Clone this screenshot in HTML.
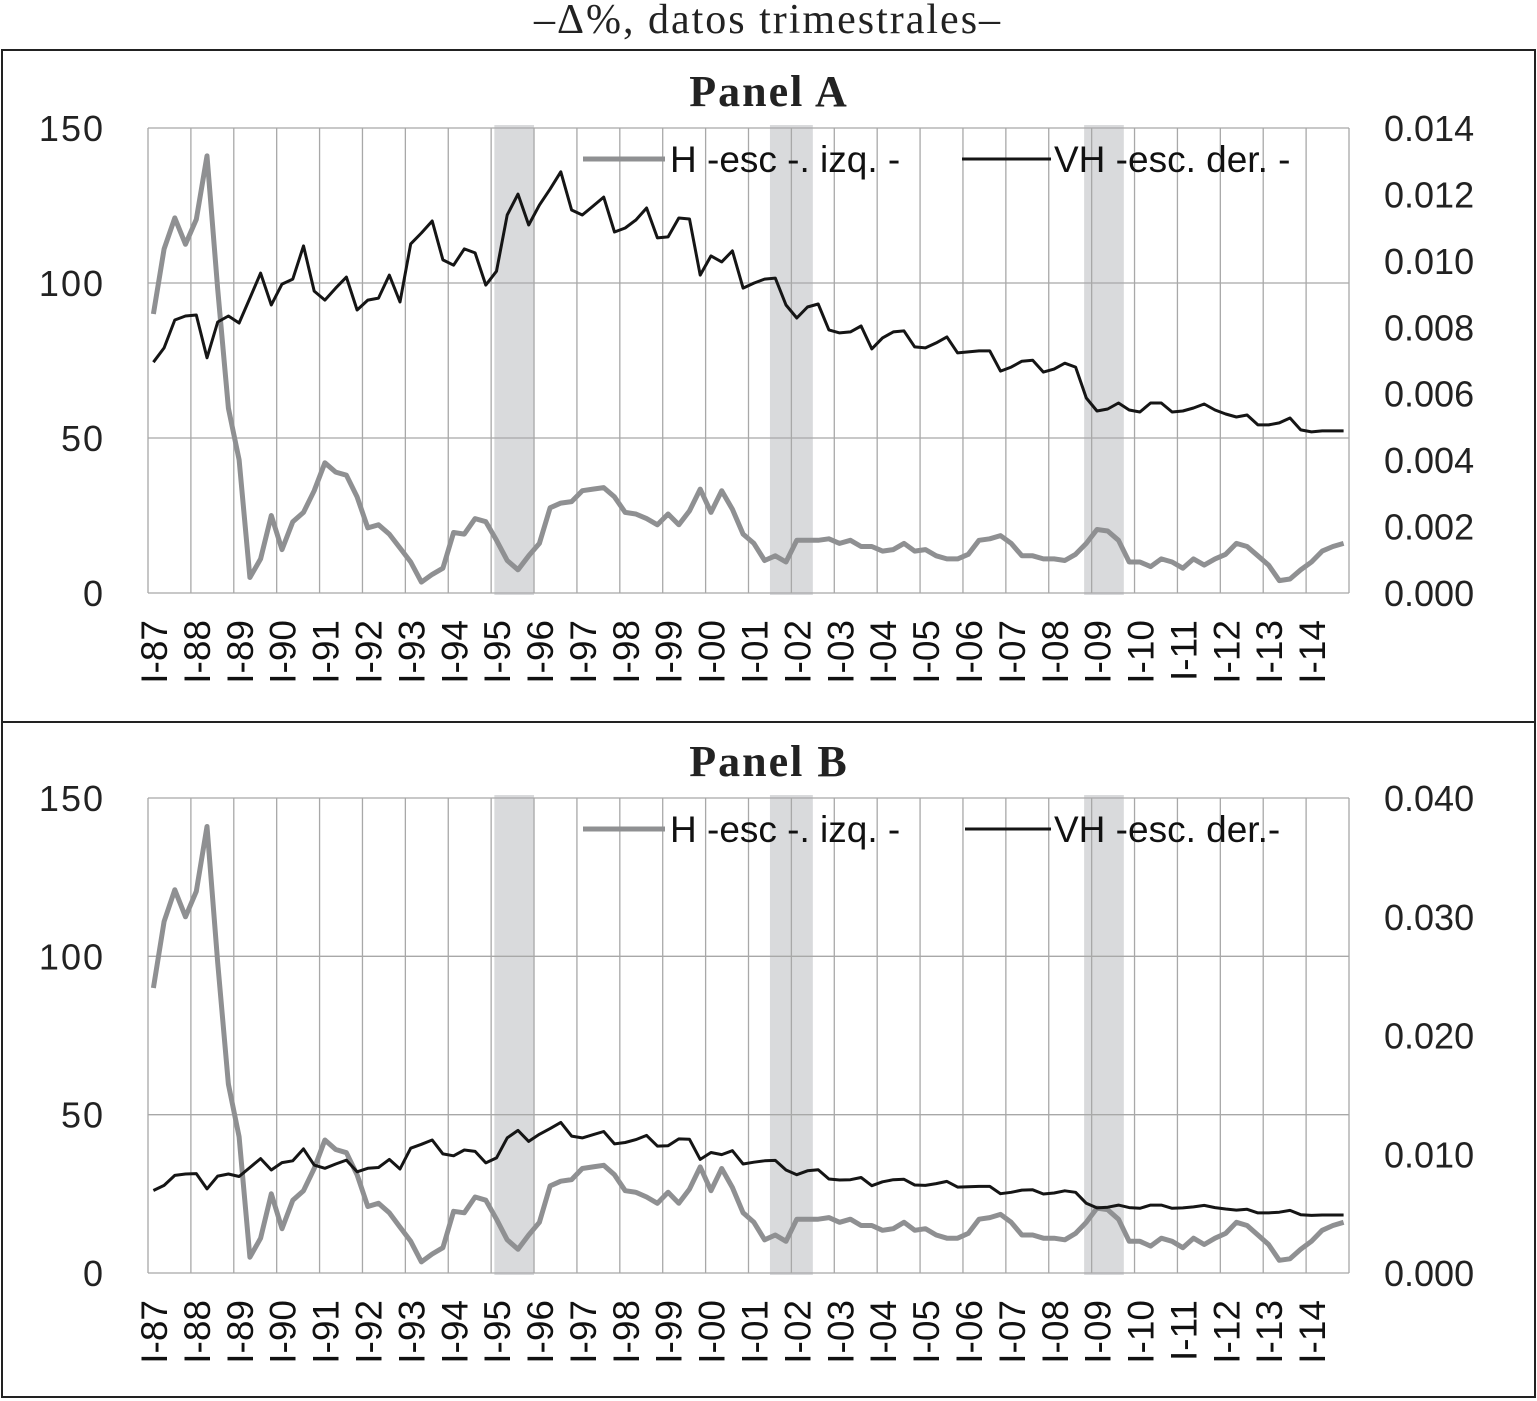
<!DOCTYPE html>
<html><head><meta charset="utf-8"><style>
html,body{margin:0;padding:0;background:#fff;}
svg{display:block;font-family:"Liberation Sans",sans-serif;}
</style></head><body>
<svg id="chart" width="1537" height="1401" viewBox="0 0 1537 1401" xmlns="http://www.w3.org/2000/svg">
<text x="768" y="33" text-anchor="middle" font-family="Liberation Serif,serif" font-size="42" letter-spacing="2" fill="#222">–Δ%, datos trimestrales–</text>
<rect x="2" y="50" width="1533" height="672" fill="none" stroke="#222" stroke-width="2"/>
<rect x="2" y="722" width="1533" height="675" fill="none" stroke="#222" stroke-width="2"/>
<g id="pa"></g>
<g id="pb"></g>
</svg>
<script>
const years = ["87","88","89","90","91","92","93","94","95","96","97","98","99","00","01","02","03","04","05","06","07","08","09","10","11","12","13","14"];
const hValues = [90,111,121,112.5,120.5,141,98,59.6,43,5,11,25,14,23,26,33,42,39,38,31,21,22,19,14.5,10,3.5,6,8,19.5,19,24,23,17,10.5,7.5,12,16,27.5,29,29.5,33,33.5,34,31,26,25.5,24,22,25.5,22,26.5,33.5,26,33,27,19,16,10.5,12,10,17,17,17,17.5,16,17,15,15,13.5,14,16,13.5,14,12,11,11,12.5,17,17.5,18.5,16,12,12,11,11,10.5,12.5,16,20.5,20,17,10,10,8.5,11,10,8,11,9,11,12.5,16,15,12,9,4,4.5,7.5,10,13.5,15,16];
const vhValues = [.00695,.00738,.00822,.00834,.00837,.00708,.00816,.00834,.00813,.00888,.00963,.00867,.0093,.00945,.01045,.00909,.00882,.00918,.00951,.00852,.00882,.00888,.00957,.00876,.01051,.01084,.0112,.01003,.00987,.01036,.01024,.00927,.00969,.01138,.01201,.01108,.01168,.01216,.01268,.01153,.01138,.01165,.01192,.01087,.01099,.01123,.01159,.01069,.01072,.01129,.01126,.00957,.01015,.00997,.0103,.00918,.00933,.00945,.00948,.00867,.00828,.00861,.0087,.00792,.00783,.00786,.00804,.00735,.00768,.00786,.00789,.00741,.00738,.00753,.00771,.00723,.00726,.00729,.00729,.00668,.0068,.00698,.00701,.00665,.00674,.00692,.0068,.00587,.00548,.00554,.00572,.00551,.00545,.00572,.00572,.00545,.00548,.00557,.00569,.00551,.00539,.0053,.00536,.00506,.00506,.00512,.00527,.00491,.00485,.00488,.00488,.00488];
const leftTicks = [0,50,100,150];
const rightTicksA = ["0.000","0.002","0.004","0.006","0.008","0.010","0.012","0.014"];
const rightTicksB = ["0.000","0.010","0.020","0.030","0.040"];
const recessions = [[32.3,36],[58,62],[87.3,91]];

const NS="http://www.w3.org/2000/svg";
function mk(parent,tag,attrs){const e=document.createElementNS(NS,tag);for(const k in attrs)e.setAttribute(k,attrs[k]);parent.appendChild(e);return e;}

function drawPanel(g,top,bottom,rightMax,rightTicks,title,legendB,vhLabel){
  const L=148,R=1349,nQ=112;
  const xq=i=>L+(i)*(R-L)/nQ;
  const yl=v=>bottom-v/150*(bottom-top);
  const yr=v=>bottom-v/rightMax*(bottom-top);
  const t=mk(g,'text',{x:769,y:top-22,'text-anchor':'middle','font-family':'Liberation Serif,serif','font-weight':'bold','font-size':'44','letter-spacing':'2',fill:'#222'});
  t.textContent=title;
  
  
  recessions.forEach(r=>{
    const s=mk(g,'rect',{x:xq(r[0]),y:top-3,width:xq(r[1])-xq(r[0]),height:bottom-top+5,fill:'#d9dadc'});
    
    
  });
  for(let i=0;i<=years.length;i++){
    const x=L+i*(R-L)/years.length;
    const gl=mk(g,'line',{x1:x,x2:x,y1:top,y2:bottom,stroke:'#a8a8a8','stroke-width':1.3});
    
    
  }
  leftTicks.forEach(v=>{
    const hl=mk(g,'line',{x1:L,x2:R,y1:yl(v),y2:yl(v),stroke:'#a8a8a8','stroke-width':1.3});
    
    
    const tx=mk(g,'text',{x:105,y:yl(v)+13,'text-anchor':'end','font-size':'36','letter-spacing':'2',fill:'#222'});
    tx.textContent=v;
    
    
  });
  rightTicks.forEach((lab,i)=>{
    const v=i*rightMax/(rightTicks.length-1);
    const tx=mk(g,'text',{x:1384,y:yr(v)+13,'font-size':'36',fill:'#222'});
    tx.textContent=lab;
    
    
  });
  years.forEach((yy,i)=>{
    const x=L+i*(R-L)/years.length+6;
    const tx=mk(g,'text',{x:0,y:0,transform:`translate(${x+13},${bottom+27}) rotate(-90)`,'text-anchor':'end','font-size':'37',fill:'#111'});
    tx.textContent='I-'+yy;
    
    
  });
  const hp=hValues.map((v,i)=>`${xq(i+0.5).toFixed(1)},${yl(v).toFixed(1)}`).join(' ');
  const h=mk(g,'polyline',{points:hp,fill:'none',stroke:'#8f9092','stroke-width':5,'stroke-linejoin':'round'});
  
  
  const vp=vhValues.map((v,i)=>`${xq(i+0.5).toFixed(1)},${yr(v).toFixed(1)}`).join(' ');
  const vh=mk(g,'polyline',{points:vp,fill:'none',stroke:'#151515','stroke-width':3,'stroke-linejoin':'round'});
  
  
  const ly=top+31;
  const l1=mk(g,'line',{x1:583,x2:665,y1:ly,y2:ly,stroke:'#8f9092','stroke-width':5});
  
  
  const t1=mk(g,'text',{x:670,y:ly+13,'font-size':'37',fill:'#111'});
  t1.textContent='H -esc -. izq. -';
  
  
  const l2=mk(g,'line',{x1:legendB,x2:1051,y1:ly,y2:ly,stroke:'#151515','stroke-width':3});
  
  
  const t2=mk(g,'text',{x:1054,y:ly+13,'font-size':'37',fill:'#111','xml:space':'preserve'});
  t2.textContent=vhLabel;
  
  
}
drawPanel(document.getElementById('pa'),128,593,0.014,rightTicksA,'Panel A',962,'VH -esc. der.  -');
drawPanel(document.getElementById('pb'),798,1273,0.040,rightTicksB,'Panel B',965,'VH -esc. der.-');
</script>
</body></html>
